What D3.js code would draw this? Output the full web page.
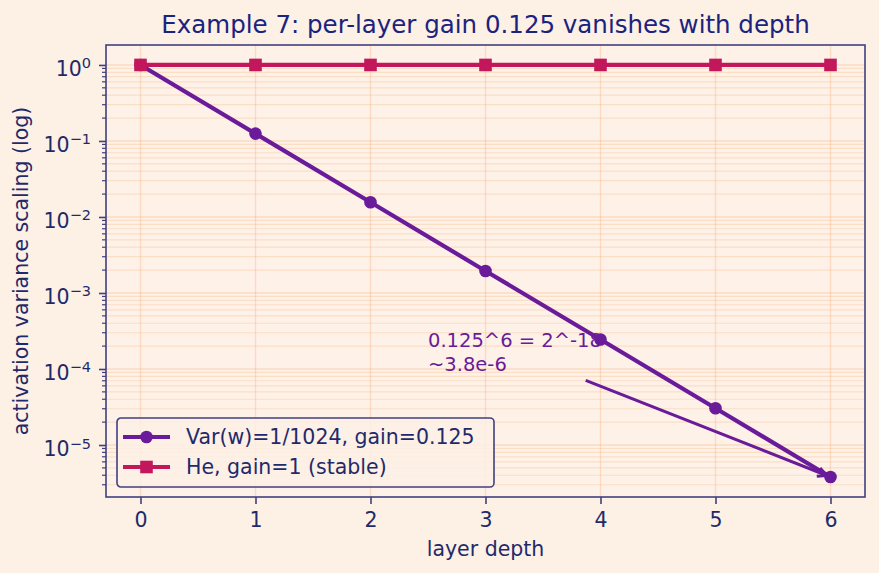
<!DOCTYPE html>
<html>
<head>
<meta charset="utf-8">
<script src="https://cdn.jsdelivr.net/npm/d3@7"></script>
<style>
  body { margin: 0; background: #fdf0e5; }
  svg { display: block; font-family: "DejaVu Sans", sans-serif; }
</style>
</head>
<body>
<div id="chart"></div>
<script>
// Example 7: activation variance vs depth, log y axis

const depths = [0, 1, 2, 3, 4, 5, 6];
const smallGain = [1, 0.125, 0.0156, 0.00195, 0.000244, 0.0000305, 0.0000038]; // Var(w)=1/1024
const heGain = [1, 1, 1, 1, 1, 1, 1];
const xTicks = [0, 1, 2, 3, 4, 5, 6];
const yDecades = [0, -1, -2, -3, -4, -5];
const seriesNames = ["Var(w)=1/1024, gain=0.125", "He, gain=1 (stable)"];
const noteLines = ["0.125^6 = 2^-18", "~3.8e-6"];
const notePos = [2.5, 0.0001];     // text anchor (data)
const noteTarget = [6, 0.0000038]; // arrow tip (data)

const W = 879, H = 573;
const margin = {top: 45, right: 14, bottom: 76, left: 106};
const ink = "#1f2a6b";
const spine = "#404080";
const purple = "#6a1b9a";
const crimson = "#c2185b";
const grid = "#f5b078";
const font = "DejaVu Sans, sans-serif";

const svg = d3.select("#chart").append("svg")
    .attr("width", W).attr("height", H);

svg.append("rect").attr("width", W).attr("height", H).attr("fill", "#fdf0e5");

const x = d3.scaleLinear()
    .domain([-0.3, 6.3])
    .range([margin.left, W - margin.right]);
const y = d3.scaleLog()
    .domain([2.07e-6, 1.83])
    .range([H - margin.bottom, margin.top]);

// plot face
svg.append("rect")
    .attr("x", margin.left).attr("y", margin.top)
    .attr("width", W - margin.left - margin.right)
    .attr("height", H - margin.top - margin.bottom)
    .attr("fill", "#fef2e8");

// minor y values (2..9 x 10^k) inside the domain
let minorY = [];
for (let k = -6; k <= 0; k++) {
    for (let m = 2; m <= 9; m++) {
        let v = m * Math.pow(10, k);
        if (v > y.domain()[0] && v < y.domain()[1]) minorY.push(v);
    }
}
const majorY = yDecades.map(d => Math.pow(10, d));

// gridlines
svg.append("g").selectAll("line.gy").data(minorY).enter().append("line")
    .attr("x1", margin.left).attr("x2", W - margin.right)
    .attr("y1", d => y(d)).attr("y2", d => y(d))
    .attr("stroke", grid).attr("stroke-opacity", 0.3).attr("stroke-width", 1.2);
svg.append("g").selectAll("line.gmy").data(majorY).enter().append("line")
    .attr("x1", margin.left).attr("x2", W - margin.right)
    .attr("y1", d => y(d)).attr("y2", d => y(d))
    .attr("stroke", grid).attr("stroke-opacity", 0.35).attr("stroke-width", 1.4);
svg.append("g").selectAll("line.gx").data(xTicks).enter().append("line")
    .attr("y1", margin.top).attr("y2", H - margin.bottom)
    .attr("x1", d => x(d)).attr("x2", d => x(d))
    .attr("stroke", grid).attr("stroke-opacity", 0.35).attr("stroke-width", 1.4);

// axes
const xAxis = svg.append("g")
    .attr("transform", "translate(0," + (H - margin.bottom) + ")")
    .call(d3.axisBottom(x).tickValues(xTicks).tickSize(7).tickPadding(8).tickFormat(d3.format("d")))
    .attr("font-family", font).attr("font-size", 20.5);
xAxis.select(".domain").remove();
xAxis.selectAll("line").attr("stroke", spine).attr("stroke-width", 1.6);
xAxis.selectAll("text").attr("fill", ink);

const yAxis = svg.append("g")
    .attr("transform", "translate(" + margin.left + ",0)")
    .call(d3.axisLeft(y).tickValues(majorY).tickSize(7).tickPadding(6).tickFormat(""))
    .attr("font-family", font).attr("font-size", 20.5);
yAxis.select(".domain").remove();
yAxis.selectAll("line").attr("stroke", spine).attr("stroke-width", 1.6);
yAxis.selectAll(".tick").each(function(d) {
    let p = Math.round(Math.log10(d));
    let t = d3.select(this).append("text")
        .attr("x", -15).attr("dy", "0.5em")
        .attr("text-anchor", "end")
        .attr("fill", ink);
    t.append("tspan").text("10");
    t.append("tspan").attr("dy", "-0.5em").attr("font-size", 14.5)
        .text(p === 0 ? "0" : "\u2212" + Math.abs(p));
});
svg.append("g").selectAll("line").data(minorY).enter().append("line")
    .attr("x1", margin.left - 4).attr("x2", margin.left)
    .attr("y1", d => y(d)).attr("y2", d => y(d))
    .attr("stroke", spine).attr("stroke-width", 1.2);

// frame
svg.append("rect")
    .attr("x", margin.left).attr("y", margin.top)
    .attr("width", W - margin.left - margin.right)
    .attr("height", H - margin.top - margin.bottom)
    .attr("fill", "none").attr("stroke", spine).attr("stroke-width", 1.6);

// series
const line = d3.line().x((d, i) => x(depths[i])).y(d => y(d));

svg.append("path").datum(smallGain)
    .attr("d", line).attr("fill", "none")
    .attr("stroke", purple).attr("stroke-width", 4.2).attr("stroke-linejoin", "round");
svg.append("g").selectAll("circle").data(smallGain).enter().append("circle")
    .attr("cx", (d, i) => x(depths[i])).attr("cy", d => y(d))
    .attr("r", 6.3).attr("fill", purple);

svg.append("path").datum(heGain)
    .attr("d", line).attr("fill", "none")
    .attr("stroke", crimson).attr("stroke-width", 4.2);
svg.append("g").selectAll("rect").data(heGain).enter().append("rect")
    .attr("x", (d, i) => x(depths[i]) - 6.3).attr("y", d => y(d) - 6.3)
    .attr("width", 12.6).attr("height", 12.6).attr("fill", crimson);

// annotation
const note = svg.append("text")
    .attr("x", x(notePos[0])).attr("y", y(notePos[1]) - 22)
    .attr("fill", purple).style("font-size", "19.5px");
noteLines.forEach((s, i) => {
    note.append("tspan").attr("x", x(notePos[0])).attr("dy", i === 0 ? 0 : 24).text(s);
});
const bb = note.node().getBBox();
const cx0 = bb.x + bb.width / 2, cy0 = bb.y + bb.height / 2;
const tx = x(noteTarget[0]), ty = y(noteTarget[1]);
// leave the text box along the line to the target
const tEdge = Math.min((bb.width / 2) / Math.abs(tx - cx0), (bb.height / 2) / Math.abs(ty - cy0));
const sx = cx0 + (tx - cx0) * tEdge, sy = cy0 + (ty - cy0) * tEdge;
const len = Math.hypot(tx - sx, ty - sy);
const ux = (tx - sx) / len, uy = (ty - sy) / len;
const ax0 = sx + ux * 12, ay0 = sy + uy * 12;
const ax1 = tx - ux * 4, ay1 = ty - uy * 4;
svg.append("line")
    .attr("x1", ax0).attr("y1", ay0).attr("x2", ax1).attr("y2", ay1)
    .attr("stroke", purple).attr("stroke-width", 3);
const hl = 9, hw = 4.5;
svg.append("path")
    .attr("d", d3.line()([
        [ax1 - ux * hl - uy * hw, ay1 - uy * hl + ux * hw],
        [ax1, ay1],
        [ax1 - ux * hl + uy * hw, ay1 - uy * hl - ux * hw]
    ]))
    .attr("fill", "none").attr("stroke", purple).attr("stroke-width", 3);

// legend
const leg = svg.append("g").attr("transform", "translate(117,418)");
leg.append("rect")
    .attr("width", 377).attr("height", 69).attr("rx", 4)
    .attr("fill", "#fdf0e5").attr("fill-opacity", 0.85)
    .attr("stroke", spine).attr("stroke-width", 1.6);
[purple, crimson].forEach((c, i) => {
    let row = leg.append("g").attr("transform", "translate(0," + (19 + i * 30) + ")");
    row.append("line").attr("x1", 6).attr("x2", 53).attr("stroke", c).attr("stroke-width", 4.2);
    if (i === 0) row.append("circle").attr("cx", 29.5).attr("r", 6.3).attr("fill", c);
    else row.append("rect").attr("x", 23.2).attr("y", -6.3).attr("width", 12.6).attr("height", 12.6).attr("fill", c);
    row.append("text").attr("x", 69).attr("dy", "0.36em")
        .attr("fill", ink).style("font-size", "20.5px").text(seriesNames[i]);
});

// titles
svg.append("text")
    .attr("x", (margin.left + W - margin.right) / 2).attr("y", 33)
    .attr("text-anchor", "middle").attr("fill", "#1a237e")
    .style("font-size", "24.5px")
    .text("Example 7: per-layer gain 0.125 vanishes with depth");
svg.append("text")
    .attr("x", (margin.left + W - margin.right) / 2).attr("y", 556)
    .attr("text-anchor", "middle").attr("fill", ink)
    .style("font-size", "20.5px").text("layer depth");
svg.append("text")
    .attr("transform", "translate(28," + ((margin.top + H - margin.bottom) / 2) + ") rotate(-90)")
    .attr("text-anchor", "middle").attr("fill", ink)
    .style("font-size", "20.5px").text("activation variance scaling (log)");
</script>
</body>
</html>
